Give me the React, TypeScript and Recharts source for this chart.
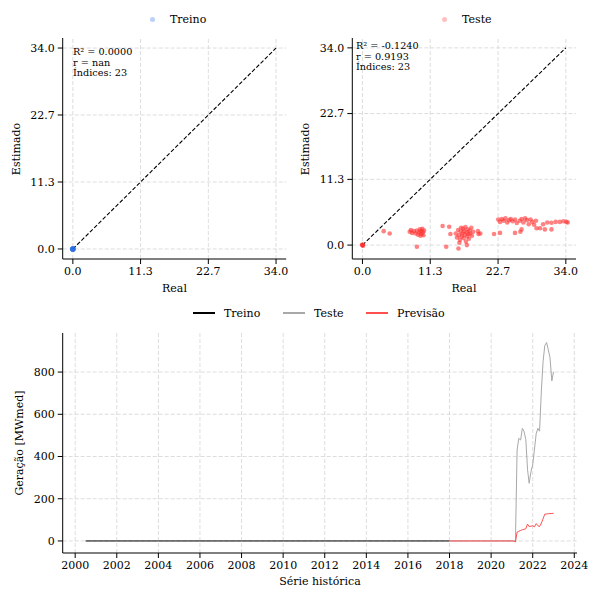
import React from "react";
import {
  ScatterChart,
  Scatter,
  XAxis,
  YAxis,
  ReferenceLine,
  LineChart,
  Line,
} from "recharts";

const FONT = "'DejaVu Serif', serif";
const GRID = "#d4d4d4";

// --- Real x Estimado panels ---
const diag = [0, 34];
const scatterTicks = [0, 11.33, 22.67, 34];

const treinoReal = [0, 0, 0, 0, 0, 0];
const treinoEst = [0, 0, 0, 0, 0, 0];

const testeReal = [
  0, 0, 0, 0.1, 0, 3.55, 4.55,
  7.9, 8.1, 8.3, 8.6, 8.9, 9.1, 9.3, 9.5, 9.6, 9.7, 9.8, 9.9, 10.0, 10.1, 10.2, 10.3, 9.1,
  13.4, 14.5, 14.7, 14.0,
  15.6, 15.8, 16.0, 16.1, 16.2, 16.3, 16.4, 16.5, 16.6, 16.7, 16.8, 16.9, 17.0, 17.1, 17.2,
  17.3, 17.4, 17.5, 17.6, 17.7, 17.8, 17.9, 18.0, 18.2, 18.3, 18.5, 16.05, 17.45, 19.3, 19.4,
  19.7, 22.0, 23.0,
  22.7, 23.0, 23.3, 23.6, 23.9, 24.2, 24.5, 24.8, 25.1, 25.5, 25.8,
  25.5, 26.4, 26.6,
  26.3, 26.6, 26.9, 27.2, 27.5, 27.8, 28.1, 28.4, 28.7, 29.0,
  29.1, 29.7, 30.5, 31.6,
  30.2, 30.9, 31.6, 32.3, 33.0, 33.6, 34.1, 34.3,
];
const testeEst = [
  0, 0, 0, -0.1, 0.1, 2.4, 2.0,
  2.3, 2.6, 2.1, 2.4, 2.0, 2.5, 1.8, 2.2, 2.7, 1.6, 2.4, 1.9, 2.8, 2.2, 1.7, 2.5, -0.3,
  3.3, 3.15, 1.9, -0.3,
  2.0, 1.3, 2.6, 1.7, 0.4, 0.9, 2.3, 3.0, 1.5, 2.0, 2.8, 1.2, 2.4, 1.8, 3.1,
  0.6, 2.2, 1.5, 2.7, 1.9, 1.1, 2.5, 2.0, 3.0, 1.6, 2.3, -0.6, 0.0, 2.4, 1.9,
  2.0, 1.9, 2.1,
  4.4, 4.0, 4.5, 4.2, 4.6, 3.9, 4.3, 4.5, 4.1, 4.4, 3.8,
  2.1, 2.3, 2.7,
  4.2, 4.5, 3.9, 4.6, 4.3, 3.6, 4.4, 4.0, 3.5, 4.2,
  2.9, 2.9, 2.7, 2.7,
  3.6, 3.9, 3.85, 4.0, 4.0, 4.1, 4.0, 3.9,
];

// --- Série histórica (ano decimal, MWmed) ---
const yearTicks = [2000, 2002, 2004, 2006, 2008, 2010, 2012, 2014, 2016, 2018, 2020, 2022, 2024];
const geracaoTicks = [0, 200, 400, 600, 800];

const treinoAno = [2000.5, 2002, 2004, 2006, 2008, 2010, 2012, 2014, 2016, 2018];
const treinoGer = [0, 0, 0, 0, 0, 0, 0, 0, 0, 0];

const testeAno = [
  2018.0, 2018.5, 2019.0, 2019.5, 2020.0, 2020.5, 2021.0, 2021.08, 2021.17, 2021.25,
  2021.33, 2021.42, 2021.5, 2021.58, 2021.67, 2021.75, 2021.83, 2021.92, 2022.0, 2022.08,
  2022.17, 2022.25, 2022.33, 2022.42, 2022.5, 2022.58, 2022.67, 2022.75, 2022.83, 2022.92,
  2023.0,
];
const testeGer = [
  0, 0, 0, 0, 0, 0, 0, 0, 0, 431,
  486, 478, 533, 520, 480, 340, 273, 330, 360, 430,
  510, 533, 520, 720, 850, 925, 940, 905, 870, 758,
  801,
];
const previsaoGer = [
  0, 0, 0, 0, 0, 0, 0, 0, -5, 42,
  46, 50, 53, 55, 58, 80, 68, 70, 72, 67,
  82, 72, 68, 85, 105, 127, 128, 129, 130, 130,
  131,
];

const zip = (xs: number[], ys: number[]) => xs.map((x, i) => ({ x, y: ys[i] }));
const series = (ts: number[], vs: number[]) => ts.map((t, i) => ({ t, v: vs[i] }));

const tickStyle = { fontSize: 11, fill: "#000", fontFamily: FONT };

// dashed grid drawn at the tick values only (like matplotlib's grid)
function gridLines(xs: number[], ys: number[]) {
  return [
    ...xs.map((v) => (
      <ReferenceLine key={`gx${v}`} x={v} stroke={GRID} strokeWidth={0.8} strokeDasharray="4 2" />
    )),
    ...ys.map((v) => (
      <ReferenceLine key={`gy${v}`} y={v} stroke={GRID} strokeWidth={0.8} strokeDasharray="4 2" />
    )),
  ];
}

function Txt({ x, y, children, rotate = 0, size = 11 }: { x: number; y: number; children: React.ReactNode; rotate?: number; size?: number }) {
  return (
    <div
      style={{
        position: "absolute",
        left: x,
        top: y,
        transform: `translate(-50%, -50%) rotate(${rotate}deg)`,
        fontFamily: FONT,
        fontSize: size,
        whiteSpace: "nowrap",
        lineHeight: "14px",
        color: "#000",
      }}
    >
      {children}
    </div>
  );
}

function StatsBox({ x, y, lines }: { x: number; y: number; lines: string[] }) {
  return (
    <div style={{ position: "absolute", left: x, top: y, fontFamily: FONT, fontSize: 9.7, lineHeight: "10.5px", whiteSpace: "nowrap" }}>
      {lines.map((l) => (
        <div key={l}>{l}</div>
      ))}
    </div>
  );
}

function DotLegend({ x, y, label, color }: { x: number; y: number; label: string; color: string }) {
  return (
    <div style={{ position: "absolute", left: x, top: y - 7, height: 14, display: "flex", alignItems: "center", fontFamily: FONT, fontSize: 11 }}>
      <span style={{ width: 5, height: 5, borderRadius: "50%", background: color, opacity: 0.3, display: "inline-block" }} />
      <span style={{ marginLeft: 15 }}>{label}</span>
    </div>
  );
}

function RealEstPanel({
  left,
  data,
  color,
  yDomain,
  radius,
  opacity,
  marginLeft,
  marginRight,
}: {
  left: number;
  data: { x: number; y: number }[];
  color: string;
  yDomain: [number, number];
  radius: number;
  opacity: number;
  marginLeft: number;
  marginRight: number;
}) {
  return (
    <div style={{ position: "absolute", left, top: 0 }}>
      <ScatterChart width={300} height={300} margin={{ top: 38, right: marginRight, bottom: 11, left: marginLeft }}>
        <XAxis
          type="number"
          dataKey="x"
          domain={[-1.7, 35.7]}
          ticks={scatterTicks}
          interval={0}
          tickFormatter={(v: number) => v.toFixed(1)}
          tick={tickStyle}
          tickSize={5}
          tickMargin={3}
          height={30}
          axisLine={{ stroke: "#000" }}
          tickLine={{ stroke: "#000" }}
          allowDataOverflow
        />
        <YAxis
          type="number"
          dataKey="y"
          domain={yDomain}
          ticks={scatterTicks}
          interval={0}
          tickFormatter={(v: number) => v.toFixed(1)}
          tick={tickStyle}
          tickSize={5}
          tickMargin={3}
          width={50}
          axisLine={{ stroke: "#000" }}
          tickLine={{ stroke: "#000" }}
          allowDataOverflow
        />
        {gridLines(scatterTicks, scatterTicks)}
        <ReferenceLine
          segment={[
            { x: diag[0], y: diag[0] },
            { x: diag[1], y: diag[1] },
          ]}
          stroke="#000"
          strokeWidth={1.1}
          strokeDasharray="4 2"
          ifOverflow="visible"
        />
        <Scatter
          data={data}
          isAnimationActive={false}
          shape={(p: any) => <circle cx={p.cx} cy={p.cy} r={radius} fill={color} fillOpacity={opacity} />}
        />
      </ScatterChart>
    </div>
  );
}

export default function App() {
  return (
    <div style={{ position: "absolute", left: 0, top: 0, width: 600, height: 600, background: "#fff" }}>
      <RealEstPanel
        left={0}
        data={zip(treinoReal, treinoEst)}
        color="#1f66e5"
        yDomain={[-1.7, 35.7]}
        radius={2.8}
        opacity={0.35}
        marginLeft={12.7}
        marginRight={13.8}
      />
      <RealEstPanel
        left={290}
        data={zip(testeReal, testeEst)}
        color="#ff3030"
        yDomain={[-2.4, 35.7]}
        radius={2.3}
        opacity={0.6}
        marginLeft={12.3}
        marginRight={14}
      />

      <DotLegend x={150} y={19.3} label="Treino" color="#1f66e5" />
      <DotLegend x={442} y={19.3} label="Teste" color="#ff3030" />

      <StatsBox x={73} y={47} lines={["R² = 0.0000", "r = nan", "Índices: 23"]} />
      <StatsBox x={356} y={41} lines={["R² = -0.1240", "r = 0.9193", "Índices: 23"]} />

      <Txt x={174.5} y={289}>Real</Txt>
      <Txt x={464} y={289}>Real</Txt>
      <Txt x={17} y={148.5} rotate={-90}>Estimado</Txt>
      <Txt x={306} y={148.5} rotate={-90}>Estimado</Txt>

      {/* bottom legend */}
      <div style={{ position: "absolute", left: 0, top: 306, width: 600, height: 14, fontFamily: FONT, fontSize: 11 }}>
        {[
          { x: 193, label: "Treino", color: "#000" },
          { x: 283, label: "Teste", color: "#a8a8a8" },
          { x: 366, label: "Previsão", color: "#ff5050" },
        ].map((item) => (
          <div key={item.label} style={{ position: "absolute", left: item.x, top: 0, height: 14, display: "flex", alignItems: "center" }}>
            <span style={{ width: 22, height: 1.2, background: item.color, display: "inline-block" }} />
            <span style={{ marginLeft: 9 }}>{item.label}</span>
          </div>
        ))}
      </div>

      <div style={{ position: "absolute", left: 0, top: 300 }}>
        <LineChart width={600} height={300} margin={{ top: 33, right: 23, bottom: 17, left: 12.7 }}>
          <XAxis
            type="number"
            dataKey="t"
            domain={[1999.4, 2024.13]}
            ticks={yearTicks}
            interval={0}
            tick={tickStyle}
            tickSize={5}
            tickMargin={3}
            height={30}
            axisLine={{ stroke: "#000" }}
            tickLine={{ stroke: "#000" }}
            allowDataOverflow
          />
          <YAxis
            type="number"
            domain={[-57, 985]}
            ticks={geracaoTicks}
            interval={0}
            tick={tickStyle}
            tickSize={5}
            tickMargin={3}
            width={50}
            axisLine={{ stroke: "#000" }}
            tickLine={{ stroke: "#000" }}
            allowDataOverflow
          />
          {gridLines(yearTicks, geracaoTicks)}
          <Line data={series(treinoAno, treinoGer)} dataKey="v" stroke="#000" strokeWidth={1} dot={false} isAnimationActive={false} />
          <Line data={series(testeAno, testeGer)} dataKey="v" stroke="#a8a8a8" strokeWidth={1} dot={false} isAnimationActive={false} />
          <Line data={series(testeAno, previsaoGer)} dataKey="v" stroke="#ff5050" strokeWidth={1} dot={false} isAnimationActive={false} />
        </LineChart>
      </div>

      <Txt x={320} y={582}>Série histórica</Txt>
      <Txt x={20} y={443} rotate={-90}>Geração [MWmed]</Txt>
    </div>
  );
}
